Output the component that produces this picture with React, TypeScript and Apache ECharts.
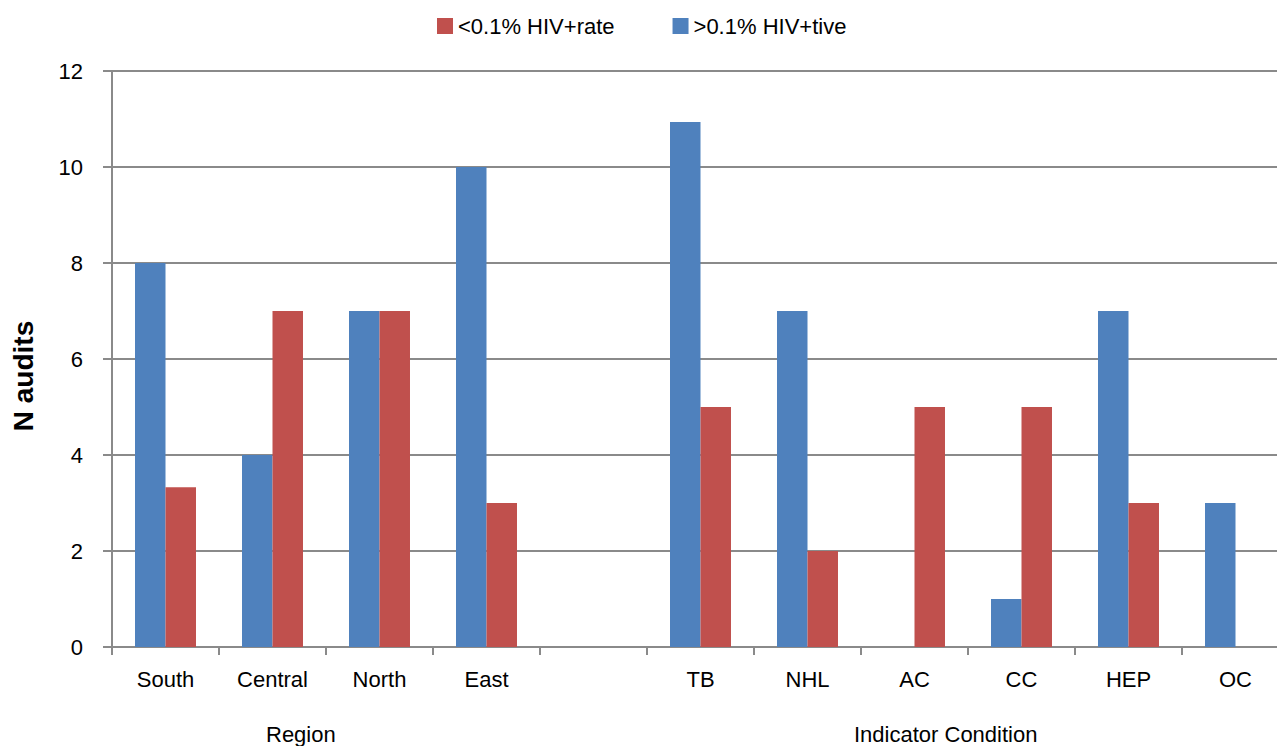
import React, { useEffect, useRef } from "react";
import * as echarts from "echarts";

const categories = ["South", "Central", "North", "East", "", "TB", "NHL", "AC", "CC", "HEP", "OC"];
const highRate = [8, 4, 7, 10, null, 10.94, 7, 0, 1, 7, 3];
const lowRate = [3.33, 7, 7, 3, null, 5, 2, 5, 5, 3, 0];
const seriesNames = [">0.1% HIV+tive", "<0.1% HIV+rate"];
const legendOrder = ["<0.1% HIV+rate", ">0.1% HIV+tive"];
const groupLabels = ["Region", "Indicator Condition"];
const yTitle = "N audits";

export default function App() {
  const ref = useRef<HTMLDivElement>(null);
  useEffect(() => {
    if (!ref.current) return;
    const chart = echarts.init(ref.current, null, { renderer: "svg" });
    const font = "Liberation Sans, Arial, sans-serif";
    chart.setOption({
      animation: false,
      textStyle: { fontFamily: font },
      legend: {
        data: legendOrder,
        left: 432,
        top: 10,
        itemWidth: 16,
        itemHeight: 16,
        itemGap: 58,
        icon: "rect",
        textStyle: { fontSize: 22, color: "#000", fontFamily: font },
      },
      grid: { left: 112, width: 1177, top: 71, height: 576, containLabel: false },
      xAxis: {
        type: "category",
        data: categories,
        axisLine: { lineStyle: { color: "#8a8a8a", width: 2 } },
        axisTick: { show: true, length: 8, interval: 0, alignWithLabel: false, lineStyle: { color: "#8a8a8a", width: 2 } },
        axisLabel: { interval: 0, fontSize: 22, color: "#000", margin: 21, fontFamily: font },
      },
      yAxis: {
        type: "value",
        min: 0,
        max: 12,
        interval: 2,
        axisLine: { show: true, lineStyle: { color: "#8a8a8a", width: 2 } },
        axisTick: { show: true, length: 9, lineStyle: { color: "#8a8a8a", width: 2 } },
        axisLabel: { fontSize: 22, color: "#000", margin: 29, fontFamily: font },
        splitLine: { lineStyle: { color: "#8a8a8a", width: 2 } },
      },
      series: [
        {
          name: seriesNames[0],
          type: "bar",
          data: highRate,
          barGap: "0%",
          barCategoryGap: "43%",
          itemStyle: { color: "#4F81BD" },
        },
        {
          name: seriesNames[1],
          type: "bar",
          data: lowRate,
          barGap: "0%",
          barCategoryGap: "43%",
          itemStyle: { color: "#C0504D" },
        },
      ],
      graphic: [
        {
          type: "text",
          x: 23,
          y: 376,
          rotation: Math.PI / 2,
          style: {
            text: yTitle,
            fontSize: 28,
            fontWeight: "bold",
            fill: "#000",
            fontFamily: font,
            textAlign: "center",
            textVerticalAlign: "middle",
          },
        },
        {
          type: "text",
          left: 266,
          top: 723,
          style: { text: groupLabels[0], fontSize: 22, fill: "#000", fontFamily: font },
        },
        {
          type: "text",
          left: 854,
          top: 723,
          style: { text: groupLabels[1], fontSize: 22, fill: "#000", fontFamily: font },
        },
      ],
    });
    return () => chart.dispose();
  }, []);
  return (
    <div
      style={{ position: "fixed", left: 0, top: 0, width: 1277, height: 746, overflow: "hidden", background: "#fff" }}
    >
      <div ref={ref} style={{ position: "absolute", left: 0, top: 0, width: 1300, height: 746 }} />
    </div>
  );
}
